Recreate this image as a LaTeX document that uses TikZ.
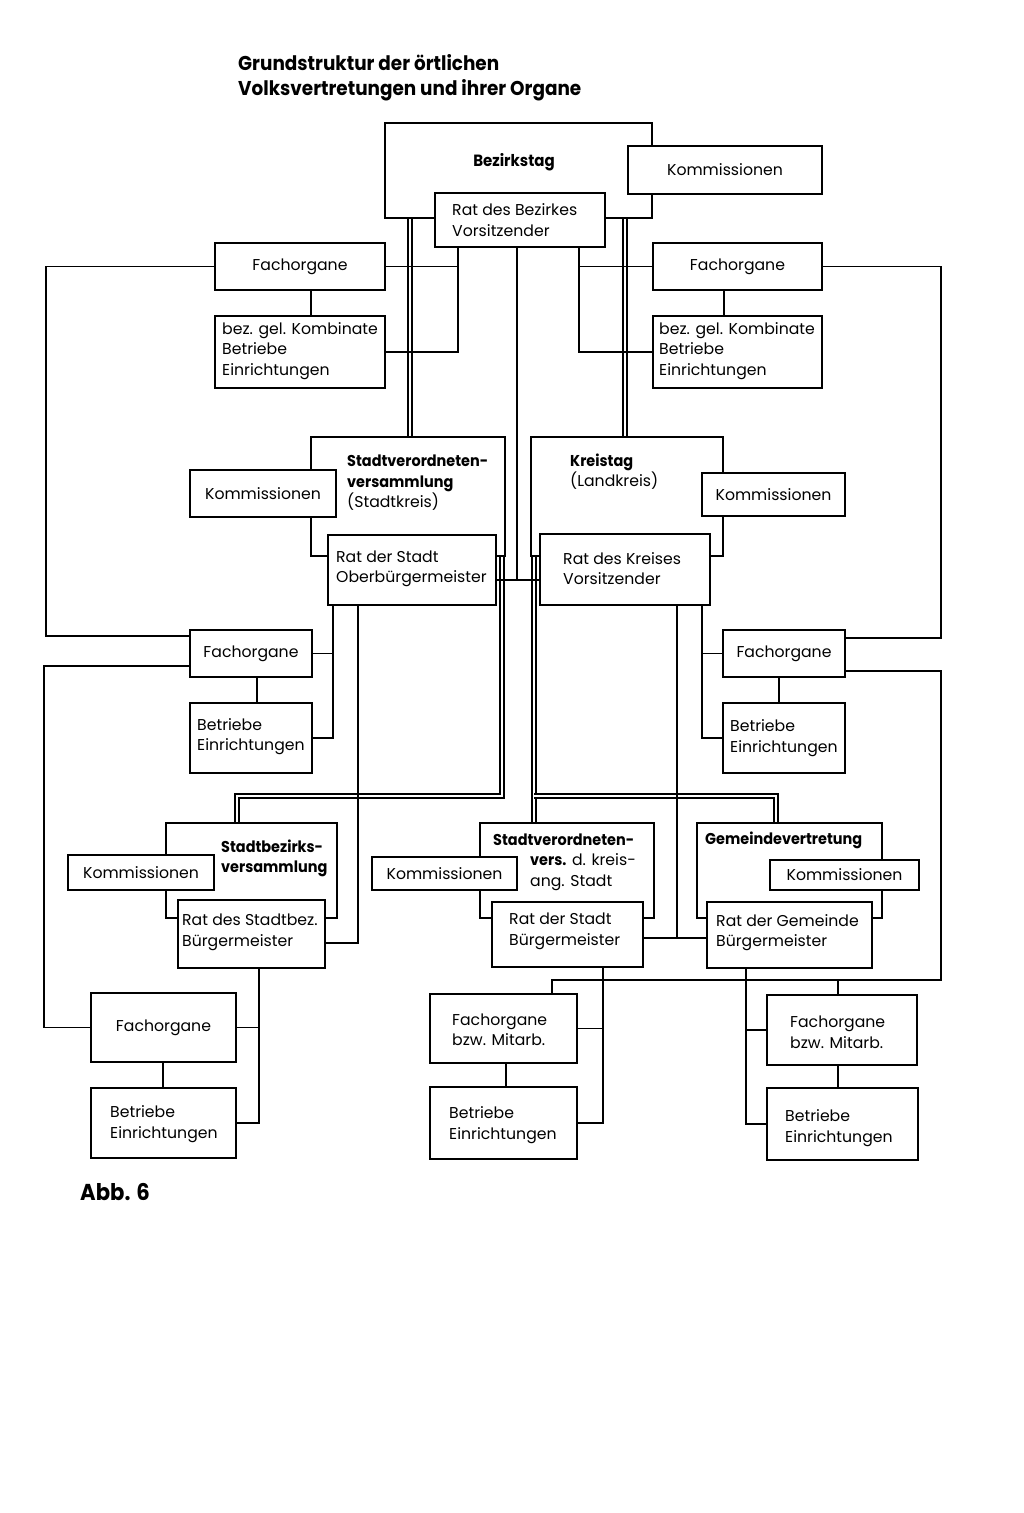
\documentclass[tikz,border=0pt]{standalone}
\usepackage{fontspec}
\setmainfont{Poppins}[BoldFeatures={FakeStretch=0.92}]
\usetikzlibrary{fit}
\tikzset{
 box/.style={draw, line width=1.8pt, fill=white, inner sep=0pt},
 mainbox/.style={box, line width=2.4pt},
 conn/.style={line width=1.6pt},
 dbl/.style={draw, double=white, line width=1.8pt, double distance=2.2pt},
 ctr/.style={inner sep=0pt, font=\fontsize{15.7}{20}\selectfont},
 lbl/.style={anchor=west, align=left, inner sep=0pt, font=\fontsize{15.7}{20.5}\selectfont},
 blbl/.style={lbl, font=\fontsize{15.7}{20.5}\selectfont\bfseries},
}
\begin{document}
\begin{tikzpicture}[x=1pt,y=-1pt]
\fill[white] (0,0) rectangle (1024,1513);
\path[use as bounding box] (0,0) rectangle (1024,1513);

% coordinates
\coordinate (xa) at (458,0); \coordinate (xb) at (579,0); \coordinate (xc) at (517,0);
\coordinate (xd) at (311,0); \coordinate (xe) at (724,0); \coordinate (yR) at (0,580);
\coordinate (xL1) at (46,0); \coordinate (yS1) at (0,636);
\coordinate (xR1) at (941,0); \coordinate (yK1) at (0,638);
\coordinate (xd1) at (410,0); \coordinate (xd2) at (625,0);
\coordinate (xd3) at (502,0); \coordinate (yd) at (0,796); \coordinate (xd4) at (237,0);
\coordinate (xd5) at (534,0); \coordinate (xd6) at (776,0);
\coordinate (xf) at (333,0); \coordinate (xg) at (257,0);
\coordinate (xh) at (358,0); \coordinate (yh) at (0,943);
\coordinate (xL2) at (44,0); \coordinate (yS2) at (0,666);
\coordinate (xi) at (702,0); \coordinate (xj) at (779,0);
\coordinate (xk) at (677,0); \coordinate (yk) at (0,938);
\coordinate (yK2) at (0,671); \coordinate (yb) at (0,980);
\coordinate (xm) at (552,0); \coordinate (xn) at (838,0);
\coordinate (xo) at (259,0); \coordinate (xp) at (163,0);
\coordinate (xq) at (603,0); \coordinate (xr) at (506,0); \coordinate (xs) at (746,0);

% box geometry (names for the double connectors)
\path
 node[fit={(385,123) (652,218)}, inner sep=0pt] (bt) {}
 node[fit={(311,437) (505,556)}, inner sep=0pt] (svv) {}
 node[fit={(531,437) (723,556)}, inner sep=0pt] (kt) {}
 node[fit={(166,823) (337,918)}, inner sep=0pt] (sbv) {}
 node[fit={(480,823) (654,918)}, inner sep=0pt] (svk) {}
 node[fit={(697,823) (882,918)}, inner sep=0pt] (gv) {};

% double connectors
\draw[dbl] (bt.south -| xd1) -- (svv.north -| xd1);
\draw[dbl] (bt.south -| xd2) -- (kt.north -| xd2);
\draw[dbl] (svv.south -| xd3) -- (xd3 |- yd) -- (xd4 |- yd) -- (sbv.north -| xd4);
\draw[dbl] (kt.south -| xd5) -- (svk.north -| xd5);
\draw[dbl] (xd5 |- yd) -- (xd6 |- yd) -- (gv.north -| xd6);

% Bezirk level
\node[mainbox, fit={(385,123) (652,218)}] (btb) {};
\node[box, fit={(628,146) (822,194)}] (komB) {};
\node[box, fit={(435,193) (605,247)}] (ratB) {};
\node[box, fit={(215,243) (385,290)}] (fachL) {};
\node[box, fit={(215,316) (385,388)}] (kombL) {};
\node[box, fit={(653,243) (822,290)}] (fachR) {};
\node[box, fit={(653,316) (822,388)}] (kombR) {};

% Stadtkreis / Landkreis
\node[mainbox, fit={(311,437) (505,556)}] (svvb) {};
\node[box, fit={(190,470) (336,517)}] (komS) {};
\node[box, fit={(328,535) (496,605)}] (ratS) {};
\node[mainbox, fit={(531,437) (723,556)}] (ktb) {};
\node[box, fit={(702,473) (845,516)}] (komK) {};
\node[box, fit={(540,534) (710,605)}] (ratK) {};
\node[box, fit={(190,630) (312,677)}] (fachS) {};
\node[box, fit={(190,703) (312,773)}] (betS) {};
\node[box, fit={(723,630) (845,677)}] (fachK) {};
\node[box, fit={(723,703) (845,773)}] (betK) {};

% lower level
\node[mainbox, fit={(166,823) (337,918)}] (sbvb) {};
\node[box, fit={(68,855) (214,890)}] (komSB) {};
\node[box, fit={(178,900) (325,968)}] (ratSB) {};
\node[mainbox, fit={(480,823) (654,918)}] (svkb) {};
\node[box, fit={(372,857) (517,890)}] (komSK) {};
\node[box, fit={(492,902) (643,967)}] (ratSK) {};
\node[mainbox, fit={(697,823) (882,918)}] (gvb) {};
\node[box, fit={(770,860) (919,890)}] (komG) {};
\node[box, fit={(707,902) (872,968)}] (ratG) {};
\node[box, fit={(91,993) (236,1062)}] (fachSB) {};
\node[box, fit={(91,1088) (236,1158)}] (betSB) {};
\node[box, fit={(430,994) (577,1063)}] (fachSK) {};
\node[box, fit={(430,1087) (577,1159)}] (betSK) {};
\node[box, fit={(767,995) (917,1065)}] (fachG) {};
\node[box, fit={(767,1088) (918,1160)}] (betG) {};

% connectors
\draw[conn] (ratB.south -| xa) -- (xa |- kombL.east) -- (kombL.east);
\draw[conn] (fachL.east) -- (fachL.east -| xa);
\draw[conn] (ratB.south -| xb) -- (xb |- kombR.west) -- (kombR.west);
\draw[conn] (fachR.west) -- (fachR.west -| xb);
\draw[conn] (fachL.south -| xd) -- (kombL.north -| xd);
\draw[conn] (fachR.south -| xe) -- (kombR.north -| xe);
\draw[conn] (ratB.south -| xc) -- (xc |- yR);
\draw[conn] (ratS.east |- yR) -- (ratK.west |- yR);
\draw[conn] (fachL.west) -- (fachL.west -| xL1) -- (xL1 |- yS1) -- (fachS.west |- yS1);
\draw[conn] (fachR.east) -- (fachR.east -| xR1) -- (xR1 |- yK1) -- (fachK.east |- yK1);

\draw[conn] (ratS.south -| xf) -- (xf |- betS.east) -- (betS.east);
\draw[conn] (fachS.east) -- (fachS.east -| xf);
\draw[conn] (fachS.south -| xg) -- (betS.north -| xg);
\draw[conn] (ratS.south -| xh) -- (xh |- yh) -- (ratSB.east |- yh);
\draw[conn] (fachS.west |- yS2) -- (xL2 |- yS2) -- (xL2 |- fachSB.west) -- (fachSB.west);

\draw[conn] (ratK.south -| xi) -- (xi |- betK.west) -- (betK.west);
\draw[conn] (fachK.west) -- (fachK.west -| xi);
\draw[conn] (fachK.south -| xj) -- (betK.north -| xj);
\draw[conn] (ratK.south -| xk) -- (xk |- yk);
\draw[conn] (ratSK.east |- yk) -- (ratG.west |- yk);
\draw[conn] (fachK.east |- yK2) -- (xR1 |- yK2) -- (xR1 |- yb) -- (xm |- yb) -- (fachSK.north -| xm);
\draw[conn] (xn |- yb) -- (fachG.north -| xn);

\draw[conn] (ratSB.south -| xo) -- (xo |- betSB.east) -- (betSB.east);
\draw[conn] (fachSB.east) -- (fachSB.east -| xo);
\draw[conn] (fachSB.south -| xp) -- (betSB.north -| xp);
\draw[conn] (ratSK.south -| xq) -- (xq |- betSK.east) -- (betSK.east);
\draw[conn] (fachSK.east) -- (fachSK.east -| xq);
\draw[conn] (fachSK.south -| xr) -- (betSK.north -| xr);
\draw[conn] (ratG.south -| xs) -- (xs |- betG.west) -- (betG.west);
\draw[conn] (fachG.west) -- (fachG.west -| xs);
\draw[conn] (fachG.south -| xn) -- (betG.north -| xn);

% centred texts
\node[ctr] (tkomB) at (komB.center) {Kommissionen};
\node[ctr] (tfachL) at (fachL.center) {Fachorgane};
\node[ctr] (tfachR) at (fachR.center) {Fachorgane};
\node[ctr] (tkomS) at (komS.center) {Kommissionen};
\node[ctr] (tkomK) at (komK.center) {Kommissionen};
\node[ctr] (tfachS) at (fachS.center) {Fachorgane};
\node[ctr] (tfachK) at (fachK.center) {Fachorgane};
\node[ctr] (tkomSB) at (komSB.center) {Kommissionen};
\node[ctr] (tkomSK) at (komSK.center) {Kommissionen};
\node[ctr] (tkomG) at (komG.center) {Kommissionen};
\node[ctr] (tfachSB) at (fachSB.center) {Fachorgane};

% other texts
\node[anchor=west, align=left, inner sep=0pt, font=\bfseries\fontsize{20}{25}\selectfont] (title) at (238,77.5) {Grundstruktur der örtlichen\\Volksvertretungen und ihrer Organe};
\node[inner sep=0pt, font=\bfseries\fontsize{16.3}{20}\selectfont] (tbt) at (514,162) {Bezirkstag};
\node[lbl] (tratB) at (452,220) {Rat des Bezirkes\\Vorsitzender};
\node[lbl] (tkombL) at (222,351) {bez. gel. Kombinate\\Betriebe\\Einrichtungen};
\node[lbl] (tkombR) at (659,351) {bez. gel. Kombinate\\Betriebe\\Einrichtungen};
\node[lbl] (tsvv) at (347,483) {\textbf{Stadtverordneten-}\\\textbf{versammlung}\\(Stadtkreis)};
\node[lbl] (tratS) at (336,569) {Rat der Stadt\\Oberbürgermeister};
\node[lbl] (tkt) at (570,471.5) {\textbf{Kreistag}\\(Landkreis)};
\node[lbl] (tratK) at (563,568.5) {Rat des Kreises\\Vorsitzender};
\node[lbl] (tbetS) at (197,736.5) {Betriebe\\Einrichtungen};
\node[lbl] (tbetK) at (730,738) {Betriebe\\Einrichtungen};
\node[blbl] (tsbv) at (221,858.5) {Stadtbezirks-\\versammlung};
\node[lbl] (tratSB) at (182,932.5) {Rat des Stadtbez.\\Bürgermeister};
\node[lbl, anchor=base west] (tsvk1) at (493,845) {\textbf{Stadtverordneten-}};
\node[lbl] (tsvk2) at (530,872) {\textbf{vers.} d. kreis-\\ang. Stadt};
\node[lbl] (tratSK) at (509,931.5) {Rat der Stadt\\Bürgermeister};
\node[lbl, anchor=base west] (tgv) at (705,844) {\textbf{Gemeindevertretung}};
\node[lbl] (tratG) at (716,932.5) {Rat der Gemeinde\\Bürgermeister};
\node[lbl] (tbetSB) at (110,1124) {Betriebe\\Einrichtungen};
\node[lbl] (tfachSK) at (452,1029.5) {Fachorgane\\bzw. Mitarb.};
\node[lbl] (tbetSK) at (449,1125) {Betriebe\\Einrichtungen};
\node[lbl] (tfachG) at (790,1032) {Fachorgane\\bzw. Mitarb.};
\node[lbl] (tbetG) at (785,1128) {Betriebe\\Einrichtungen};
\node[anchor=west, inner sep=0pt, font=\bfseries\fontsize{23}{27}\selectfont] (abb) at (80,1192) {Abb. 6};
\end{tikzpicture}
\end{document}
